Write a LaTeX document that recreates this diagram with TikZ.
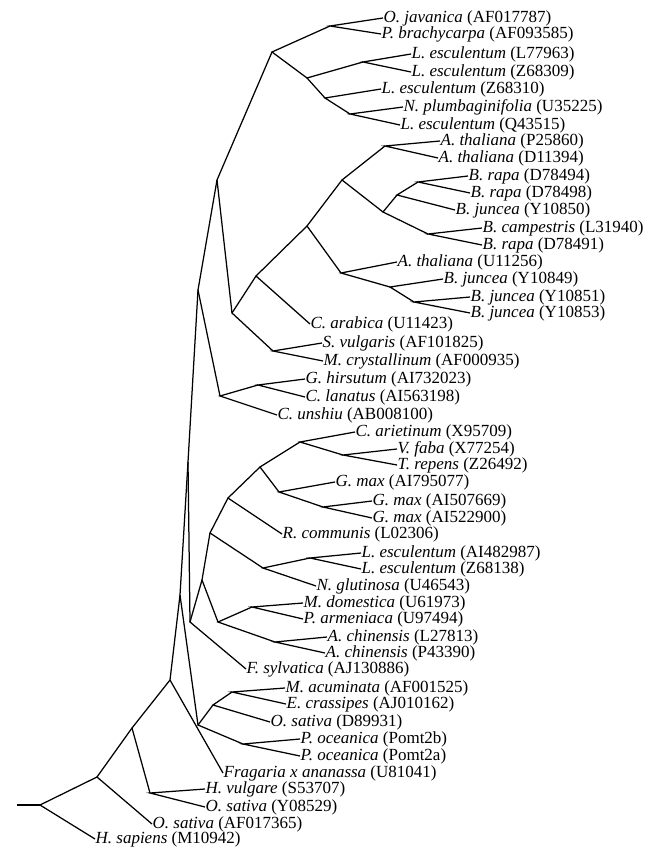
\documentclass[tikz,border=0pt]{standalone}
\usepackage{fontspec}
\setmainfont{Liberation Serif}
\usetikzlibrary{positioning}

\begin{document}
\begin{tikzpicture}[x=1pt, y=-1pt, line width=1.25pt,
    hoja/.style={anchor=west, inner sep=0pt, font=\fontsize{17}{17}\selectfont}]
\useasboundingbox (0,0) rectangle (662,848);

% Hojas del arbol (secuencias)
\node (jav) [hoja] at (383,18) {\textit{O. javanica} (AF017787)};
\node (bra) [hoja] at (381,34) {\textit{P. brachycarpa} (AF093585)};
\node (le1) [hoja] at (411,54) {\textit{L. esculentum} (L77963)};
\node (le2) [hoja] at (411,72) {\textit{L. esculentum} (Z68309)};
\node (le3) [hoja] at (381,89) {\textit{L. esculentum} (Z68310)};
\node (npl) [hoja] at (403,107) {\textit{N. plumbaginifolia} (U35225)};
\node (le4) [hoja] at (400,125) {\textit{L. esculentum} (Q43515)};
\node (at1) [hoja] at (440,141) {\textit{A. thaliana} (P25860)};
\node (at2) [hoja] at (438,158) {\textit{A. thaliana} (D11394)};
\node (br1) [hoja] at (468,176) {\textit{B. rapa} (D78494)};
\node (br2) [hoja] at (470,193) {\textit{B. rapa} (D78498)};
\node (bj1) [hoja] at (455,210) {\textit{B. juncea} (Y10850)};
\node (bca) [hoja] at (482,228) {\textit{B. campestris} (L31940)};
\node (br3) [hoja] at (482,245) {\textit{B. rapa} (D78491)};
\node (at3) [hoja] at (397,262) {\textit{A. thaliana} (U11256)};
\node (bj2) [hoja] at (443,279) {\textit{B. juncea} (Y10849)};
\node (bj3) [hoja] at (470,297) {\textit{B. juncea} (Y10851)};
\node (bj4) [hoja] at (470,313) {\textit{B. juncea} (Y10853)};
\node (car) [hoja] at (310,324) {\textit{C. arabica} (U11423)};
\node (svu) [hoja] at (322,343) {\textit{S. vulgaris} (AF101825)};
\node (mcr) [hoja] at (323,361) {\textit{M. crystallinum} (AF000935)};
\node (ghi) [hoja] at (305,379) {\textit{G. hirsutum} (AI732023)};
\node (cla) [hoja] at (305,397) {\textit{C. lanatus} (AI563198)};
\node (cun) [hoja] at (277,415) {\textit{C. unshiu} (AB008100)};
\node (cari) [hoja] at (355,432) {\textit{C. arietinum} (X95709)};
\node (vfa) [hoja] at (397,449) {\textit{V. faba} (X77254)};
\node (tre) [hoja] at (397,465) {\textit{T. repens} (Z26492)};
\node (gm1) [hoja] at (335,482) {\textit{G. max} (AI795077)};
\node (gm2) [hoja] at (372,501) {\textit{G. max} (AI507669)};
\node (gm3) [hoja] at (372,518) {\textit{G. max} (AI522900)};
\node (rco) [hoja] at (282,534) {\textit{R. communis} (L02306)};
\node (le5) [hoja] at (361,553) {\textit{L. esculentum} (AI482987)};
\node (le6) [hoja] at (361,569) {\textit{L. esculentum} (Z68138)};
\node (ngl) [hoja] at (316,586) {\textit{N. glutinosa} (U46543)};
\node (mdo) [hoja] at (303,603) {\textit{M. domestica} (U61973)};
\node (par) [hoja] at (303,619) {\textit{P. armeniaca} (U97494)};
\node (ach1) [hoja] at (327,637) {\textit{A. chinensis} (L27813)};
\node (ach2) [hoja] at (325,653) {\textit{A. chinensis} (P43390)};
\node (fsy) [hoja] at (246,669) {\textit{F. sylvatica} (AJ130886)};
\node (mac) [hoja] at (285,688) {\textit{M. acuminata} (AF001525)};
\node (ecr) [hoja] at (286,704) {\textit{E. crassipes} (AJ010162)};
\node (os1) [hoja] at (270,722) {\textit{O. sativa} (D89931)};
\node (poc1) [hoja] at (300,739) {\textit{P. oceanica} (Pomt2b)};
\node (poc2) [hoja] at (300,756) {\textit{P. oceanica} (Pomt2a)};
\node (fra) [hoja] at (223,773) {\textit{Fragaria x ananassa} (U81041)};
\node (hvu) [hoja] at (205,789) {\textit{H. vulgare} (S53707)};
\node (os2) [hoja] at (205,807) {\textit{O. sativa} (Y08529)};
\node (os3) [hoja] at (152,824) {\textit{O. sativa} (AF017365)};
\node (hsa) [hoja] at (95,839) {\textit{H. sapiens} (M10942)};

% Nodos internos
\coordinate (base) at (17,805);
\coordinate (v1) at (40,805);
\coordinate (v2) at (97,777);
\coordinate (v3) at (132,728);
\coordinate (v4) at (150,793);
\coordinate (v5) at (170,680);
\coordinate (v6) at (180,595);
\coordinate (v7) at (188,462);
\coordinate (v8) at (198,725);
\coordinate (v9) at (213,705);
\coordinate (v10) at (232,692);
\coordinate (v11) at (243,744);
\coordinate (v12) at (198,290);
\coordinate (v13) at (190,622);
\coordinate (v14) at (202,580);
\coordinate (v15) at (210,533);
\coordinate (v16) at (218,622);
\coordinate (v17) at (228,498);
\coordinate (v18) at (263,568);
\coordinate (v19) at (310,558);
\coordinate (v20) at (260,467);
\coordinate (v21) at (300,442);
\coordinate (v22) at (279,492);
\coordinate (v23) at (343,455);
\coordinate (v24) at (323,507);
\coordinate (v25) at (252,607);
\coordinate (v26) at (275,642);
\coordinate (v27) at (217,180);
\coordinate (v28) at (220,396);
\coordinate (v29) at (258,385);
\coordinate (v30) at (272,52);
\coordinate (v31) at (232,313);
\coordinate (v32) at (256,276);
\coordinate (v33) at (273,351);
\coordinate (v34) at (307,226);
\coordinate (v35) at (342,180);
\coordinate (v36) at (341,273);
\coordinate (v37) at (390,287);
\coordinate (v38) at (414,302);
\coordinate (v39) at (385,146);
\coordinate (v40) at (383,212);
\coordinate (v41) at (397,195);
\coordinate (v42) at (428,234);
\coordinate (v43) at (418,182);
\coordinate (v44) at (330,26);
\coordinate (v45) at (307,78);
\coordinate (v46) at (363,62);
\coordinate (v47) at (325,98);
\coordinate (v48) at (350,114);

% Ramas: hijo -- padre -- hijo
\draw (base) -- (v1);
\draw (hsa.west) -- (v1) -- (v2);
\draw (os3.west) -- (v2) -- (v3);
\draw (v4) -- (v3) -- (v5);
\draw (hvu.west) -- (v4) -- (os2.west);
\draw (v6) -- (v5) -- (fra.west);
\draw (v7) -- (v6) -- (v8);
\draw (v9) -- (v8) -- (v11);
\draw (v10) -- (v9) -- (os1.west);
\draw (mac.west) -- (v10) -- (ecr.west);
\draw (poc1.west) -- (v11) -- (poc2.west);
\draw (v12) -- (v7) -- (v13);
\draw (v14) -- (v13) -- (fsy.west);
\draw (v15) -- (v14) -- (v16);
\draw (v17) -- (v15) -- (v18);
\draw (v19) -- (v18) -- (ngl.west);
\draw (le5.west) -- (v19) -- (le6.west);
\draw (v20) -- (v17) -- (rco.west);
\draw (v21) -- (v20) -- (v22);
\draw (cari.west) -- (v21) -- (v23);
\draw (vfa.west) -- (v23) -- (tre.west);
\draw (gm1.west) -- (v22) -- (v24);
\draw (gm2.west) -- (v24) -- (gm3.west);
\draw (v25) -- (v16) -- (v26);
\draw (mdo.west) -- (v25) -- (par.west);
\draw (ach1.west) -- (v26) -- (ach2.west);
\draw (v27) -- (v12) -- (v28);
\draw (v29) -- (v28) -- (cun.west);
\draw (ghi.west) -- (v29) -- (cla.west);
\draw (v30) -- (v27) -- (v31);
\draw (v32) -- (v31) -- (v33);
\draw (svu.west) -- (v33) -- (mcr.west);
\draw (v34) -- (v32) -- (car.west);
\draw (v35) -- (v34) -- (v36);
\draw (at3.west) -- (v36) -- (v37);
\draw (bj2.west) -- (v37) -- (v38);
\draw (bj3.west) -- (v38) -- (bj4.west);
\draw (v39) -- (v35) -- (v40);
\draw (at1.west) -- (v39) -- (at2.west);
\draw (v41) -- (v40) -- (v42);
\draw (v43) -- (v41) -- (bj1.west);
\draw (br1.west) -- (v43) -- (br2.west);
\draw (bca.west) -- (v42) -- (br3.west);
\draw (v44) -- (v30) -- (v45);
\draw (jav.west) -- (v44) -- (bra.west);
\draw (v46) -- (v45) -- (v47);
\draw (le1.west) -- (v46) -- (le2.west);
\draw (le3.west) -- (v47) -- (v48);
\draw (npl.west) -- (v48) -- (le4.west);
\end{tikzpicture}
\end{document}
